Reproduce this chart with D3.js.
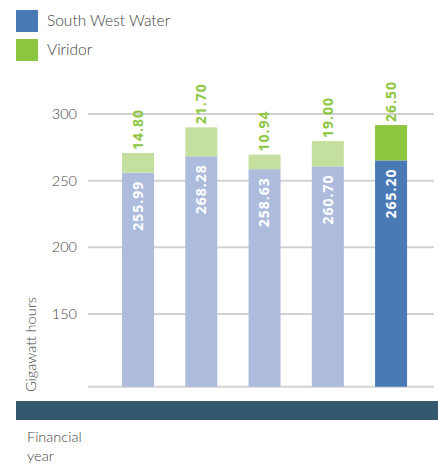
<!DOCTYPE html>
<html>
<head>
<meta charset="utf-8">
<script src="https://cdn.jsdelivr.net/npm/d3@7"></script>
<style>
  body { margin: 0; background: #fff; }
  text { font-family: "Lato", "Open Sans", sans-serif; }
</style>
</head>
<body>
<div id="chart"></div>
<script>
const years = ["y1", "y2", "y3", "y4", "y5"];
const southWest = [255.99, 268.28, 258.63, 260.70, 265.20];
const viridor = [14.80, 21.70, 10.94, 19.00, 26.50];
const yTicks = [150, 200, 250, 300];
const seriesNames = ["South West Water", "Viridor"];

const width = 438, height = 464;

const svg = d3.select("#chart").append("svg")
  .attr("width", width)
  .attr("height", height);

const x = d3.scaleBand()
  .domain(years)
  .range([106.4, 422.7])
  .paddingInner(0.494)
  .paddingOuter(0.247);

const y = d3.scaleLinear()
  .domain([95.5, 300])
  .range([386.7, 114]);

// legend
const legendColors = ["#4a7ab5", "#8dc63f"];
seriesNames.forEach((name, i) => {
  svg.append("rect")
    .attr("x", 16).attr("y", 10 + i * 29)
    .attr("width", 22).attr("height", 22)
    .attr("fill", legendColors[i]);
  svg.append("text")
    .attr("x", 47).attr("y", 21 + i * 29)
    .attr("dy", "0.35em")
    .style("font-size", "15.5px")
    .style("font-weight", 300)
    .attr("fill", "#444")
    .text(name);
});

// grid
svg.append("g")
  .selectAll("line")
  .data(yTicks)
  .enter().append("line")
  .attr("x1", 88).attr("x2", 434)
  .attr("y1", d => y(d)).attr("y2", d => y(d))
  .attr("stroke", "#d3d3d3")
  .attr("stroke-width", 2);

svg.append("line")
  .attr("x1", 88).attr("x2", 434)
  .attr("y1", y.range()[0]).attr("y2", y.range()[0])
  .attr("stroke", "#d3d3d3")
  .attr("stroke-width", 2);

svg.append("g")
  .selectAll("text")
  .data(yTicks)
  .enter().append("text")
  .attr("x", 77)
  .attr("y", d => y(d))
  .attr("dy", "0.35em")
  .attr("text-anchor", "end")
  .style("font-size", "14.5px")
  .style("font-weight", 300)
  .attr("fill", "#444")
  .text(d => d);

const isLast = i => i === years.length - 1;

// south west water bars
svg.append("g")
  .selectAll("rect")
  .data(southWest)
  .enter().append("rect")
  .attr("x", (d, i) => x(years[i]))
  .attr("width", x.bandwidth())
  .attr("y", d => y(d))
  .attr("height", d => y.range()[0] - y(d))
  .attr("fill", (d, i) => isLast(i) ? "#4a7ab5" : "#adbcdc");

// viridor bars
svg.append("g")
  .selectAll("rect")
  .data(viridor)
  .enter().append("rect")
  .attr("x", (d, i) => x(years[i]))
  .attr("width", x.bandwidth())
  .attr("y", (d, i) => y(southWest[i] + d))
  .attr("height", (d, i) => y(southWest[i]) - y(southWest[i] + d))
  .attr("fill", (d, i) => isLast(i) ? "#8dc63f" : "#c5df9e");

// labels inside bars
svg.append("g")
  .selectAll("text")
  .data(southWest)
  .enter().append("text")
  .attr("transform", (d, i) => `translate(${x(years[i]) + x.bandwidth() / 2},${y(d) + 8}) rotate(-90)`)
  .attr("text-anchor", "end")
  .attr("dy", "0.35em")
  .style("font-family", "'Open Sans', sans-serif")
  .style("font-size", "14px")
  .style("font-weight", 700)
  .style("letter-spacing", "1px")
  .attr("fill", "#fff")
  .text(d => d.toFixed(2));

// labels above bars
svg.append("g")
  .selectAll("text")
  .data(viridor)
  .enter().append("text")
  .attr("transform", (d, i) => `translate(${x(years[i]) + x.bandwidth() / 2},${y(southWest[i] + d) - 3}) rotate(-90)`)
  .attr("text-anchor", "start")
  .attr("dy", "0.35em")
  .style("font-family", "'Open Sans', sans-serif")
  .style("font-size", "14px")
  .style("font-weight", 700)
  .style("letter-spacing", "1px")
  .attr("fill", "#8dc63f")
  .text(d => d.toFixed(2));

// y axis title
svg.append("text")
  .attr("transform", "translate(31,392) rotate(-90)")
  .attr("dy", "0.35em")
  .style("font-size", "14.5px")
  .style("font-weight", 300)
  .attr("fill", "#444")
  .text("Gigawatt hours");

// dark band
svg.append("rect")
  .attr("x", 16).attr("y", 401)
  .attr("width", width - 16).attr("height", 19)
  .attr("fill", "#34586e");

svg.append("text")
  .attr("x", 27).attr("y", 437)
  .attr("dy", "0.35em")
  .style("font-size", "14.5px")
  .style("font-weight", 300)
  .attr("fill", "#444")
  .text("Financial");
svg.append("text")
  .attr("x", 27).attr("y", 456)
  .attr("dy", "0.35em")
  .style("font-size", "14.5px")
  .style("font-weight", 300)
  .attr("fill", "#444")
  .text("year");
</script>
</body>
</html>
